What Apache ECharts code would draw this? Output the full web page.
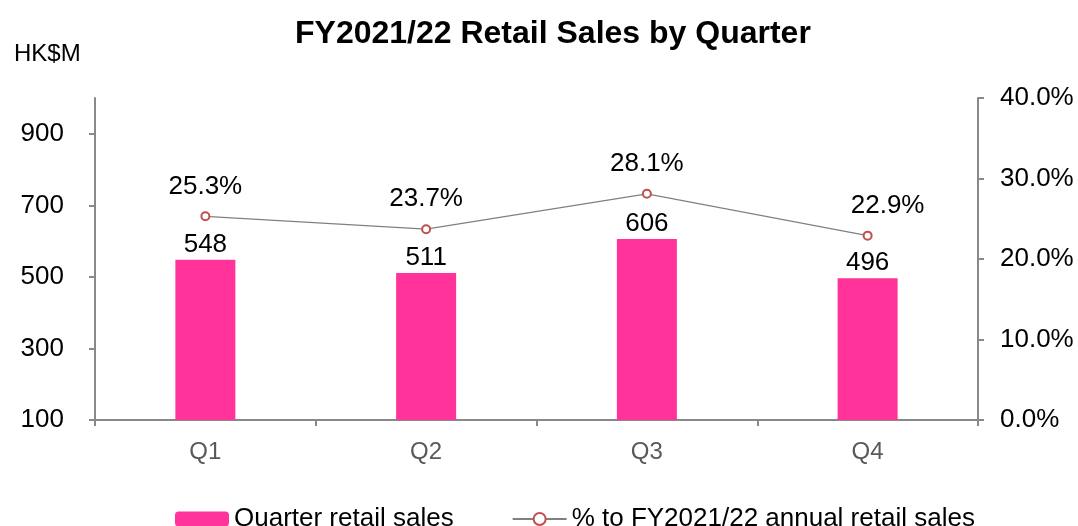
<!DOCTYPE html>
<html>
<head>
<meta charset="utf-8">
<script src="https://cdn.jsdelivr.net/npm/echarts@6/dist/echarts.min.js"></script>
<style>
  html, body { margin: 0; padding: 0; background: #fff; }
  #chart { width: 1078px; height: 526px; }
</style>
</head>
<body>
<div id="chart"></div>
<script>
// data
const quarters = ['Q1', 'Q2', 'Q3', 'Q4'];
const retailSales = [548, 511, 606, 496];
const sharePct = [25.3, 23.7, 28.1, 22.9];
const leftTicks = [100, 300, 500, 700, 900];

const chart = echarts.init(document.getElementById('chart'));
const font = 'Arial, "Liberation Sans", sans-serif';

const options = {
  animation: false,
  textStyle: { fontFamily: font },
  title: [
    {
      text: 'FY2021/22 Retail Sales by Quarter',
      left: 290,
      top: 13,
      textStyle: { fontSize: 32, fontWeight: 'bold', color: '#000', fontFamily: font }
    },
    {
      text: 'HK$M',
      left: 9,
      top: 37,
      textStyle: { fontSize: 24, fontWeight: 'normal', color: '#000', fontFamily: font }
    }
  ],
  grid: { left: 95, right: 100, top: 98, bottom: 106 },
  legend: {
    top: 501,
    left: 170,
    itemGap: 58,
    itemWidth: 54,
    itemHeight: 15,
    textStyle: { fontSize: 26, color: '#000', fontFamily: font },
    data: ['Quarter retail sales', '% to FY2021/22 annual retail sales']
  },
  xAxis: {
    type: 'category',
    data: quarters,
    axisLine: { lineStyle: { color: '#898989', width: 2 } },
    axisTick: { show: true, length: 6, lineStyle: { color: '#898989', width: 2 } },
    axisLabel: { fontSize: 24, color: '#595959', margin: 20 }
  },
  yAxis: [
    {
      type: 'value',
      min: 100,
      max: 1000,
      interval: 200,
      splitLine: { show: false },
      axisLine: { show: true, lineStyle: { color: '#898989', width: 2 } },
      axisTick: { show: true, length: 6, lineStyle: { color: '#898989', width: 2 } },
      axisLabel: {
        fontSize: 26, color: '#000', margin: 31, showMaxLabel: false,
        formatter: v => leftTicks.includes(v) ? String(v) : ''
      }
    },
    {
      type: 'value',
      min: 0,
      max: 40,
      interval: 10,
      splitLine: { show: false },
      axisLine: { show: true, lineStyle: { color: '#898989', width: 2 } },
      axisTick: { show: true, length: 6, lineStyle: { color: '#898989', width: 2 } },
      axisLabel: {
        fontSize: 26, color: '#000', margin: 22,
        formatter: v => v.toFixed(1) + '%'
      }
    }
  ],
  series: [
    {
      name: 'Quarter retail sales',
      type: 'bar',
      data: retailSales,
      barWidth: 60,
      itemStyle: { color: '#ff3399' },
      label: { show: true, position: 'top', distance: 2, fontSize: 26, color: '#000' }
    },
    {
      name: '% to FY2021/22 annual retail sales',
      type: 'line',
      yAxisIndex: 1,
      data: sharePct.map((v, i) => ({
        value: v,
        label: i === 3 ? { offset: [20, 0] } : {}
      })),
      symbol: 'emptyCircle',
      symbolSize: 8,
      lineStyle: { color: '#808080', width: 1.2 },
      itemStyle: { color: '#c0504d', borderWidth: 1.5 },
      label: {
        show: true, position: 'top', distance: 12, fontSize: 26, color: '#000',
        formatter: p => p.value.toFixed(1) + '%'
      }
    }
  ]
};

chart.setOption(options);
</script>
</body>
</html>
